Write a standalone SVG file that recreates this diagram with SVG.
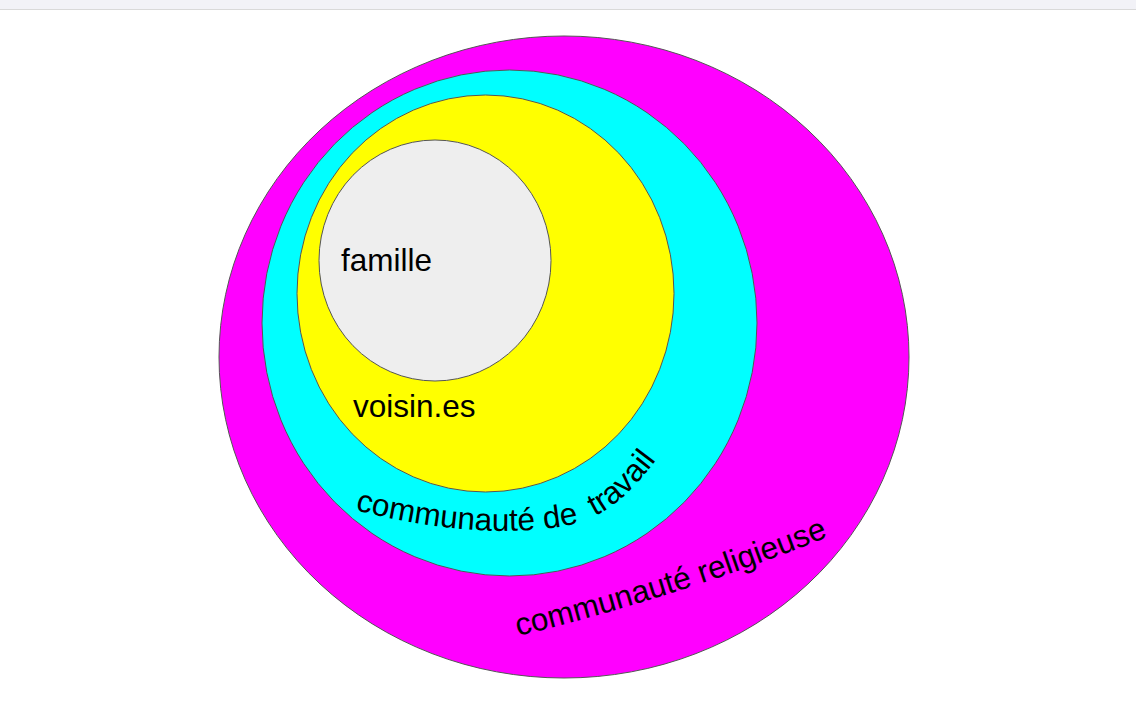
<svg xmlns="http://www.w3.org/2000/svg" width="1136" height="720" viewBox="0 0 1136 720">
<style>
.ring{stroke:#555;stroke-width:1}
.lbl{font-family:"Liberation Sans",Arial,sans-serif;font-size:31.5px;fill:#000;white-space:pre}
</style>
<defs>
<path id="p-travail" d="M 355 510 C 440 532, 520 537, 578 523 C 612 512, 640 488, 680 425"/>
<path id="p-relig" d="M 518 636 Q 690 594 850 528"/>
</defs>
<rect x="0" y="0" width="1136" height="720" fill="#ffffff"/>
<rect x="0" y="0" width="1136" height="9" fill="#f2f2f7"/>
<line x1="0" y1="9.5" x2="1136" y2="9.5" stroke="#d9d9d9" stroke-width="1"/>
<g id="religieuse">
<ellipse class="ring" cx="564" cy="357" rx="345" ry="321" fill="#ff00ff"/>
</g>
<g id="travail">
<ellipse class="ring" cx="509.5" cy="323" rx="247.5" ry="253" fill="#00ffff"/>
</g>
<g id="voisins">
<ellipse class="ring" cx="485.5" cy="293.5" rx="188.5" ry="198.5" fill="#ffff00"/>
<text class="lbl" x="353" y="417">voisin.es</text>
</g>
<g id="famille">
<ellipse class="ring" cx="435" cy="260.5" rx="116" ry="120.5" fill="#eeeeee"/>
<text class="lbl" x="341" y="271">famille</text>
</g>
<g id="labels">
<text class="lbl" xml:space="preserve"><textPath href="#p-travail">communauté de  travail</textPath></text>
<text class="lbl"><textPath href="#p-relig">communauté religieuse</textPath></text>
</g>
</svg>
